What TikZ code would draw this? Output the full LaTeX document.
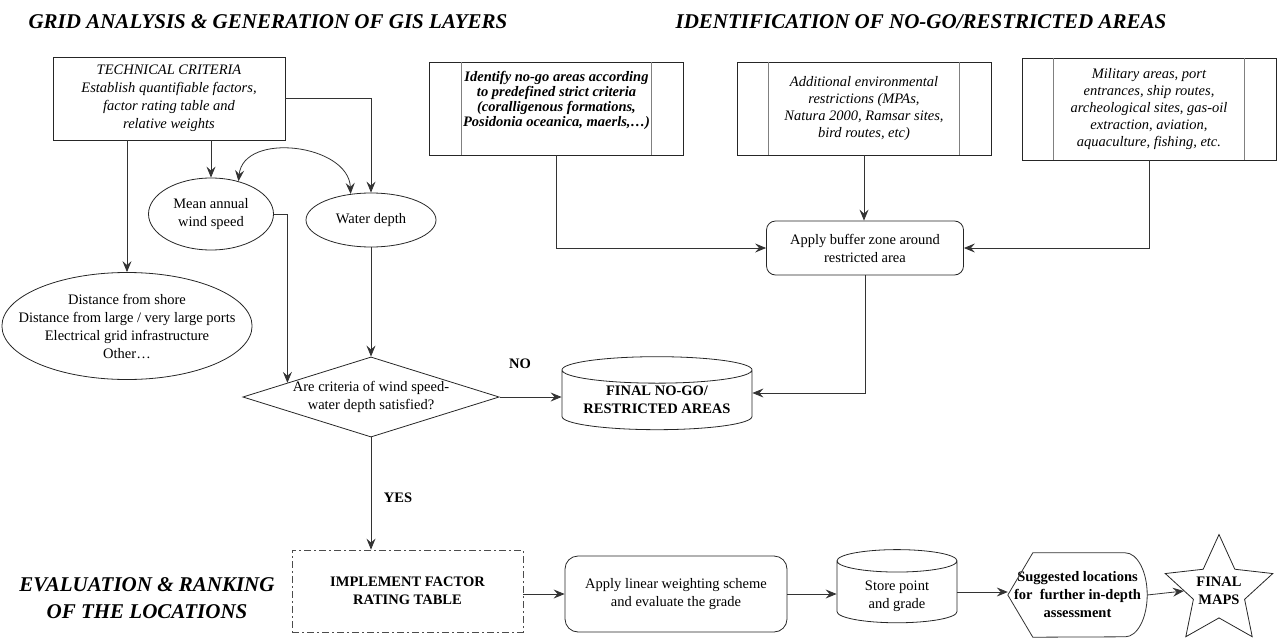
\documentclass[tikz,border=0pt]{standalone}
\usepackage{fontspec}
\setmainfont{Liberation Serif}
\usetikzlibrary{shapes.geometric,arrows.meta,calc}

\begin{document}
\begin{tikzpicture}[x=1pt,y=-1pt,
    every node/.style={font=\fontsize{14.5}{18}\selectfont,align=center,inner sep=0pt},
    ln/.style={draw=black!80,line width=0.8pt},
    arr/.style={ln,-{Stealth[length=11pt,width=9pt,inset=4pt]}},
    head/.style={font=\fontsize{21}{27}\selectfont\bfseries\itshape},
    lbl/.style={font=\fontsize{14.5}{18}\selectfont\bfseries},
    sbox/.style={draw=black!85,line width=0.8pt},
    pbox/.style={sbox,minimum width=254pt,minimum height=93pt,font=\fontsize{14.5}{17}\selectfont\itshape},
    oval/.style={ellipse,draw=black!85,line width=0.8pt},
    rbox/.style={draw=black!85,line width=0.8pt,rounded corners=9pt},
    drum/.style={cylinder,shape border rotate=90,draw=black!85,line width=0.8pt}]
  \useasboundingbox (0,0) rectangle (1282,637);
  \node[head] (h1) at (268,22) {GRID ANALYSIS \& GENERATION OF GIS LAYERS};
  \node[head] (h2) at (921,22) {IDENTIFICATION OF NO-GO/RESTRICTED AREAS};
  \node[head] (h3) at (147,598) {EVALUATION \& RANKING\\OF THE LOCATIONS};
  \node[sbox,minimum width=232pt,minimum height=83pt,font=\fontsize{14.5}{18}\selectfont\itshape] (tech) at (169,98.5)
    {TECHNICAL CRITERIA\\Establish quantifiable factors,\\factor rating table and\\relative weights};
  \node[oval,minimum width=125pt,minimum height=72pt] (mean) at (211,214) {Mean annual\\wind speed};
  \node[oval,minimum width=130pt,minimum height=54pt] (water) at (371,220) {Water depth};
  \node[oval,inner xsep=-20pt,inner ysep=2pt,minimum width=250pt,minimum height=107pt] (dist) at (127,326)
    {Distance from shore\\Distance from large / very large ports\\Electrical grid infrastructure\\Other…};
  \node[diamond,sbox,aspect=3.2,minimum width=250pt,minimum height=78pt] (dec) at (371,397)
    {Are criteria of wind speed-\\water depth satisfied?};
  \node[drum,aspect=0.18,minimum width=190pt,minimum height=73pt,font=\fontsize{14.5}{18}\selectfont\bfseries] (nogo) at (657,400)
    {FINAL NO-GO/\\RESTRICTED AREAS};
  \node[pbox,font=\fontsize{14.5}{15}\selectfont\bfseries\itshape] (ident) at (556.5,108.5)
    {Identify no-go areas according\\to predefined strict criteria\\(coralligenous formations,\\Posidonia oceanica, maerls,…)\\[4pt]\mbox{}};
  \node[pbox] (addit) at (864,108.5)
    {Additional environmental\\restrictions (MPAs,\\Natura 2000, Ramsar sites,\\bird routes, etc)};
  \node[pbox,minimum height=102pt] (milit) at (1149,109)
    {Military areas, port\\entrances, ship routes,\\archeological sites, gas-oil\\extraction, aviation,\\aquaculture, fishing, etc.};
  \foreach \n in {ident,addit,milit} {
    \draw[gray,line width=1pt] ([xshift=32pt]\n.north west) -- ([xshift=32pt]\n.south west);
    \draw[gray,line width=1pt] ([xshift=-32pt]\n.north east) -- ([xshift=-32pt]\n.south east);
  }
  \node[rbox,minimum width=197pt,minimum height=54pt] (buffer) at (865,248) {Apply buffer zone around\\restricted area};
  \node[sbox,draw=black!70,dash pattern=on 7pt off 3pt on 2pt off 3pt,minimum width=231pt,minimum height=82pt,
    font=\fontsize{14.5}{18}\selectfont\bfseries] (impl) at (407.5,591) {IMPLEMENT FACTOR\\RATING TABLE};
  \node[rbox,rounded corners=13pt,minimum width=222pt,minimum height=76pt] (lin) at (676,594)
    {Apply linear weighting scheme\\and evaluate the grade};
  \node[drum,aspect=0.35,minimum width=120pt,minimum height=62pt] (store) at (897,592)
    {\mbox{}\\Store point\\and grade};
  \node[minimum width=139pt,minimum height=84pt,font=\fontsize{14.5}{18}\selectfont\bfseries] (sugg) at (1077.5,595)
    {Suggested locations\\for~ further in-depth\\assessment};
  \draw[ln] (sugg.west) -- ([xshift=25pt]sugg.north west) -- ([xshift=-22pt]sugg.north east)
    arc[start angle=90,end angle=-90,x radius=22pt,y radius=42pt] -- ([xshift=25pt]sugg.south west) -- cycle;
  \node[star,star points=5,star point ratio=2.1,sbox,inner sep=-5pt,minimum size=113pt,font=\fontsize{14.5}{18}\selectfont\bfseries] (maps) at (1219,591)
    {FINAL\\MAPS};
  \node[lbl] (no) at (520,364) {NO};
  \node[lbl] (yes) at (398,498) {YES};
  \coordinate (m1) at ($(dec.west)!0.35!(dec.north)$);
  \draw[arr] (tech.south -| dist.north) -- (dist.north);
  \draw[arr] (tech.south -| mean.north) -- (mean.north);
  \draw[arr] (tech.east) -| (water.north);
  \draw[ln,{Stealth[length=11pt,width=9pt,inset=4pt]}-{Stealth[length=11pt,width=9pt,inset=4pt]}]
    (mean.50) .. controls +(5,-50) and +(-2,-50) .. (water.128);
  \draw[arr] (mean.east) -| (m1);
  \draw[arr] (water.south) -- (dec.north);
  \draw[arr] (dec.east) -- (dec.east -| nogo.west);
  \draw[arr] (ident.south) |- (buffer.west);
  \draw[arr] (addit.south) -- (addit.south |- buffer.north);
  \draw[arr] (milit.south) |- (buffer.east);
  \draw[arr] (buffer.south) |- ([yshift=7pt]nogo.east);
  \draw[arr] (dec.south) -- (dec.south |- impl.north);
  \draw[arr] (lin.west -| impl.east) -- (lin.west);
  \draw[arr] (lin.east) -- (lin.east -| store.west);
  \draw[arr] (store.east) -- (store.east -| sugg.west);
  \draw[arr] (sugg.east) -- (maps.west);
\end{tikzpicture}
\end{document}
